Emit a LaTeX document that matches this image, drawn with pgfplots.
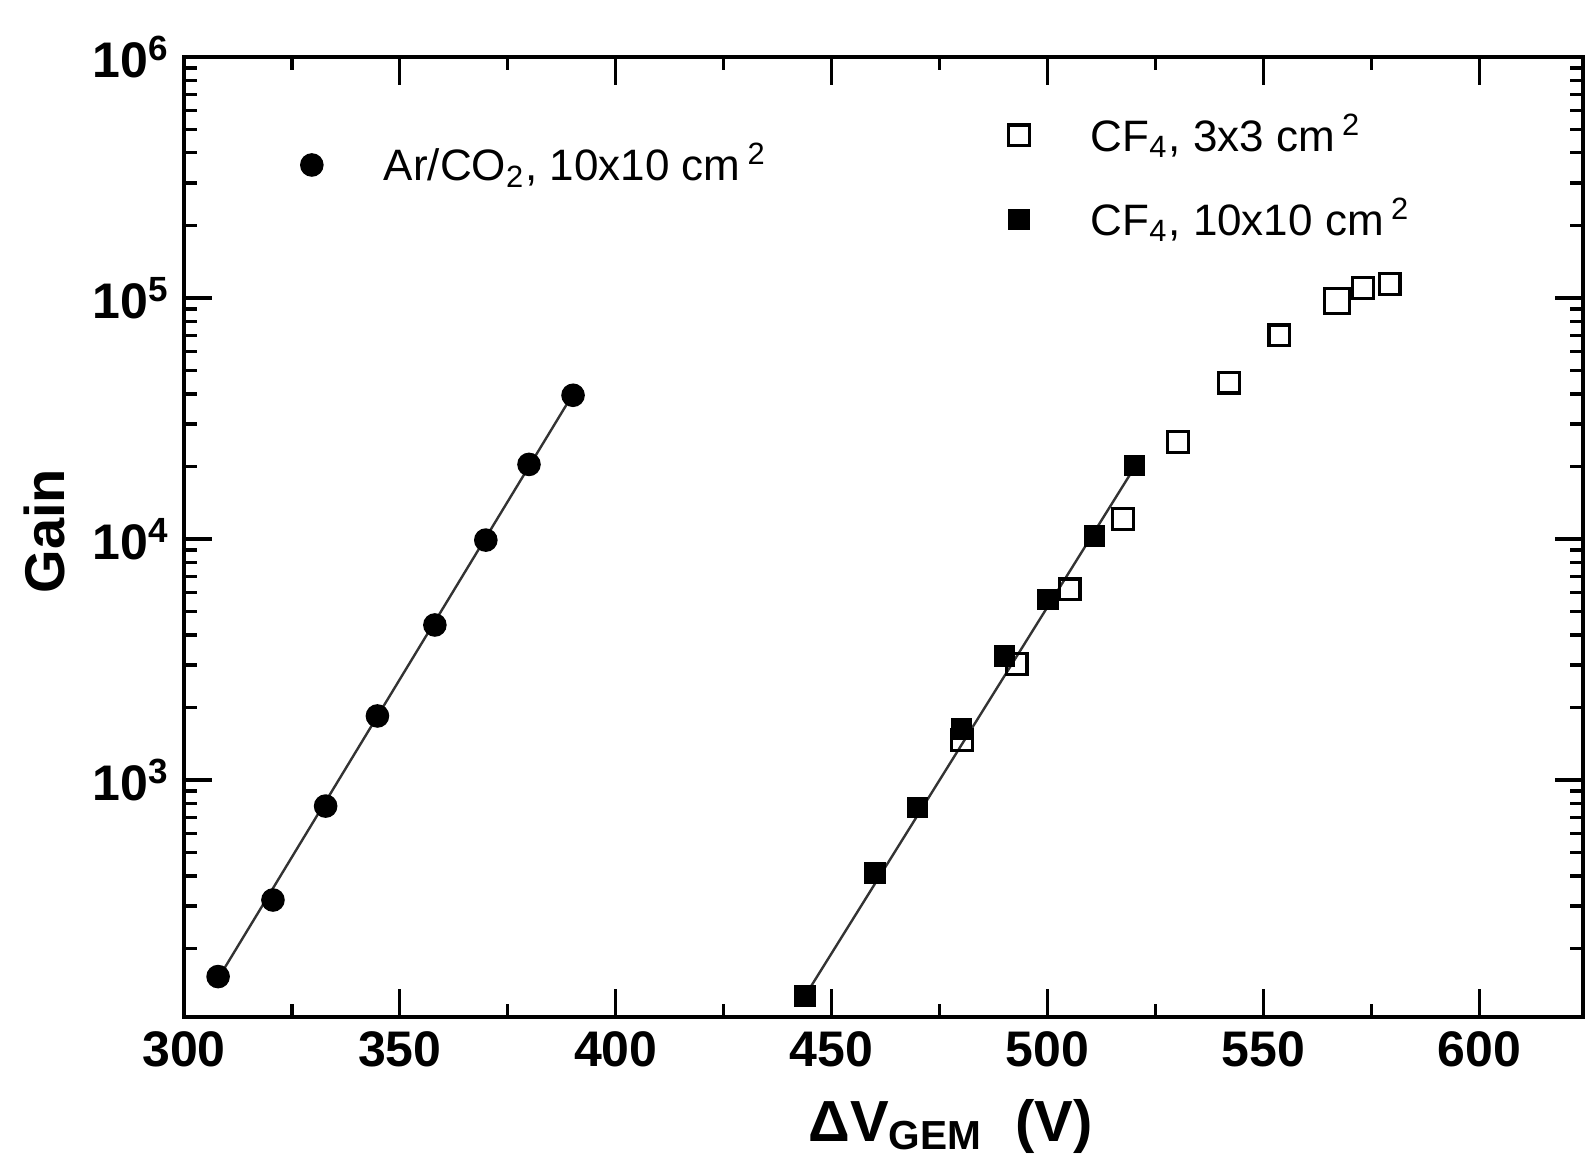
\documentclass[border=0pt]{standalone}
\usepackage{fontspec}
\setmainfont{Liberation Sans}
\usepackage{pgfplots}
\pgfplotsset{compat=1.18}
\usetikzlibrary{calc}

\begin{document}
\begin{tikzpicture}
\begin{axis}[name=ax,
  scale only axis, width=349.75pt, height=240pt,
  xmin=300, xmax=624, ymin=104, ymax=1e6,
  ymode=log, log basis y=10,
  axis line style={line width=0.9pt},
  every tick/.style={black, line width=0.8pt},
  major tick length=7pt, minor tick length=3.3pt,
  xtick={300,350,...,600}, minor x tick num=1,
  /pgf/number format/assume math mode=true,
  xticklabel style={font=\fontsize{12.5}{14}\selectfont\bfseries},
  yticklabel style={font=\fontsize{12.5}{14}\selectfont\bfseries},
  yticklabel={\pgfmathtruncatemacro{\ee}{round(\tick)}10\textsuperscript{\ee}},
  xlabel={\textbf{ΔV\textsubscript{GEM}\ \ (V)}},
  xlabel style={font=\fontsize{14.5}{16}\selectfont, anchor=north,
    at={(axis description cs:0.548,0)}, yshift=-17pt},
  ylabel={\textbf{Gain}},
  ylabel style={font=\fontsize{14}{16}\selectfont, anchor=center,
    at={(axis description cs:-0.0994,0.506)}},
  legend style={draw=none, fill=none, at={(0.0908,0.8875)}, anchor=west,
    xshift=-19pt, font=\fontsize{11}{13}\selectfont},
  legend cell align=left,
]
% Ar/CO2, 10x10 cm2
\addplot[only marks, mark=*, mark size=2.75pt, black,
  legend image code/.code={\path[draw=none] (0pt,0pt) (32pt,0pt);
    \draw[only marks, mark=*, mark size=2.75pt, black] plot coordinates {(16pt,0pt)};}] coordinates {
  (307.9,153) (320.6,318) (332.8,780) (344.8,1845)
  (358.1,4400) (369.9,9900) (379.9,20400) (390.1,39500)
};
\addlegendentry{Ar/CO\textsubscript{2}, 10x10 cm\,\textsuperscript{2}}
\addplot[forget plot, black!80, line width=0.6pt] coordinates {(307.9,150) (390.1,40000)};
\end{axis}

\begin{axis}[
  scale only axis, width=349.75pt, height=240pt,
  xmin=300, xmax=624, ymin=104, ymax=1e6,
  ymode=log, log basis y=10, hide axis,
  legend style={draw=none, fill=none, at={(0.589,0.8745)}, anchor=west,
    xshift=-16.5pt, font=\fontsize{11}{13}\selectfont, row sep=6.2pt},
  legend cell align=left,
]
% fit line through the 10x10 CF4 points
\addplot[forget plot, black!80, line width=0.6pt] coordinates {(443.8,127) (520.1,19800)};
% CF4, 3x3 cm2
\addplot[only marks, mark=square, mark size=2.6pt, black, mark options={line width=0.8pt},
  legend image code/.code={\path[draw=none] (0pt,0pt) (32pt,0pt);
    \draw[only marks, mark=square, mark size=2.6pt, black, mark options={line width=0.8pt}] plot coordinates {(16pt,0pt)};}] coordinates {
  (480.2,1469) (492.8,3030) (505.1,6180) (517.4,12140) (530.2,25200)
  (542.0,44600) (553.7,69900) (573.0,110000) (579.2,114600)
};
\addlegendentry{CF\textsubscript{4}, 3x3 cm\,\textsuperscript{2}}
\addplot[forget plot, only marks, mark=square, mark size=3.1pt, black, mark options={line width=0.8pt}] coordinates {
  (567.0,96900)
};
% CF4, 10x10 cm2
\addplot[only marks, mark=square*, mark size=2.5pt, black,
  legend image code/.code={\path[draw=none] (0pt,0pt) (32pt,0pt);
    \draw[only marks, mark=square*, mark size=2.5pt, black] plot coordinates {(16pt,0pt)};}] coordinates {
  (443.8,127) (460.0,412) (469.9,771) (480.1,1633)
  (490.0,3273) (500.1,5610) (510.9,10300) (520.1,20200)
};
\addlegendentry{CF\textsubscript{4}, 10x10 cm\,\textsuperscript{2}}
\end{axis}

\pgfresetboundingbox
\path ($(ax.south west)+(-46pt,-34.75pt)$) rectangle ($(ax.north east)+(0.5pt,14.25pt)$);
\end{tikzpicture}
\end{document}
